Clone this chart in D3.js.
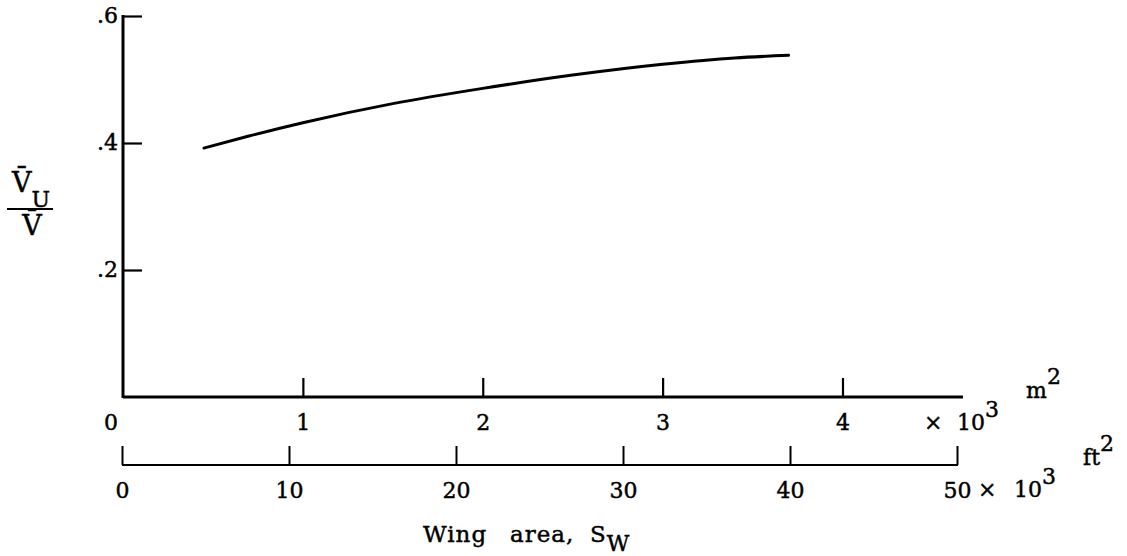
<!DOCTYPE html>
<html>
<head>
<meta charset="utf-8">
<script src="https://cdn.jsdelivr.net/npm/d3@7"></script>
<style>
  html, body { margin: 0; padding: 0; background: #fff; }
  svg { display: block; }
  text { font-family: "DejaVu Serif", "Liberation Serif", serif; fill: #000; stroke: #000; stroke-width: 0.45px; }
</style>
</head>
<body>
<svg id="chart" width="1127" height="556"></svg>
<script>
// ---- data ----
const areaM2k   = [0.45, 0.7, 1.0, 1.5, 2.0, 2.5, 3.0, 3.4, 3.7];          // wing area, m^2 x 10^3
const velRatio  = [0.392, 0.411, 0.432, 0.462, 0.486, 0.507, 0.524, 0.534, 0.538]; // V_U / V
const yTicks     = [0.2, 0.4, 0.6];
const yTickLabels = [".2", ".4", ".6"];
const m2Ticks    = [0, 1, 2, 3, 4];
const m2TickLabels = ["0", "1", "2", "3", "4"];
const ft2Ticks   = [0, 10, 20, 30, 40, 50];
const ft2TickLabels = ["0", "10", "20", "30", "40", "50"];
const m2AxisEnd  = 4.67;   // m^2 x 10^3 where the m^2 axis line stops
const ft2AxisEnd = 50;

const FS = 22;
const svg = d3.select("#chart");

const x  = d3.scaleLinear().domain([0, m2AxisEnd]).range([123, 963]);
const xf = d3.scaleLinear().domain([0, ft2AxisEnd]).range([122, 957]);
const y  = d3.scaleLinear().domain([0, 0.6]).range([397, 16]);

const baseY = y(0);
const ftY = 465;

// ---- y axis ----
const yAxis = d3.axisLeft(y)
  .tickValues(yTicks)
  .tickFormat((d, i) => yTickLabels[i])
  .tickSizeInner(-19)
  .tickSizeOuter(0)
  .tickPadding(5);
const gy = svg.append("g").attr("transform", `translate(${x(0)},0)`).call(yAxis);
gy.attr("font-family", null).attr("font-size", null);
gy.select(".domain").remove();
gy.selectAll(".tick line").attr("stroke", "#000").attr("stroke-width", 2.2);
gy.selectAll(".tick text").attr("font-size", FS).attr("dy", "0.3em");
svg.append("line")
  .attr("x1", x(0)).attr("x2", x(0))
  .attr("y1", y(0.6) - 1).attr("y2", baseY + 1)
  .attr("stroke", "#000").attr("stroke-width", 3);

// ---- m^2 axis ----
const xAxis = d3.axisBottom(x)
  .tickValues(m2Ticks.slice(1))
  .tickFormat((d, i) => m2TickLabels[i + 1])
  .tickSizeInner(-19)
  .tickSizeOuter(0)
  .tickPadding(17);
const gx = svg.append("g").attr("transform", `translate(0,${baseY})`).call(xAxis);
gx.attr("font-family", null).attr("font-size", null);
gx.select(".domain").remove();
gx.selectAll(".tick line").attr("stroke", "#000").attr("stroke-width", 2.2);
gx.selectAll(".tick text").attr("font-size", FS);
svg.append("line")
  .attr("x1", x(0)).attr("x2", x(m2AxisEnd))
  .attr("y1", baseY).attr("y2", baseY)
  .attr("stroke", "#000").attr("stroke-width", 3);
svg.append("text")
  .attr("x", x(0) - 12).attr("y", baseY + 33)
  .attr("text-anchor", "middle").attr("font-size", FS)
  .text(m2TickLabels[0]);
// x 10^3 for m^2
const t1 = svg.append("text").attr("y", 430).attr("font-size", FS);
t1.append("tspan").attr("x", 924).text("\u00D7");
t1.append("tspan").attr("x", 957).text("10");
t1.append("tspan").attr("dy", -13).text("3");
// m^2 unit
const t2 = svg.append("text").attr("x", 1026).attr("y", 398).attr("font-size", FS);
t2.append("tspan").text("m");
t2.append("tspan").attr("dy", -14).text("2");

// ---- ft^2 axis ----
const fAxis = d3.axisBottom(xf)
  .tickValues(ft2Ticks)
  .tickFormat((d, i) => ft2TickLabels[i])
  .tickSizeInner(-19)
  .tickSizeOuter(0)
  .tickPadding(17);
const gf = svg.append("g").attr("transform", `translate(0,${ftY})`).call(fAxis);
gf.attr("font-family", null).attr("font-size", null);
gf.select(".domain").remove();
gf.selectAll(".tick line").attr("stroke", "#000").attr("stroke-width", 2);
gf.selectAll(".tick text").attr("font-size", FS);
svg.append("line")
  .attr("x1", xf(0)).attr("x2", xf(ft2AxisEnd) + 1)
  .attr("y1", ftY).attr("y2", ftY)
  .attr("stroke", "#000").attr("stroke-width", 2);
const t3 = svg.append("text").attr("y", 497).attr("font-size", FS);
t3.append("tspan").attr("x", 978).text("\u00D7");
t3.append("tspan").attr("x", 1014).text("10");
t3.append("tspan").attr("dy", -13).text("3");
const t4 = svg.append("text").attr("x", 1083).attr("y", 465).attr("font-size", FS);
t4.append("tspan").text("ft");
t4.append("tspan").attr("dy", -14).text("2");

// ---- x title ----
const tt = svg.append("text").attr("y", 542).attr("font-size", 23).attr("letter-spacing", 1);
tt.append("tspan").attr("x", 423).text("Wing");
tt.append("tspan").attr("x", 510).text("area,");
tt.append("tspan").attr("x", 590).text("S");
tt.append("tspan").attr("dy", 9).attr("font-size", 22).text("W");

// ---- y title (fraction) ----
const yn = svg.append("text").attr("x", 12).attr("y", 192).attr("font-size", 27);
yn.append("tspan").text("V\u0304");
yn.append("tspan").attr("dy", 15).attr("font-size", 22).text("U");
svg.append("line").attr("x1", 7).attr("x2", 53).attr("y1", 209).attr("y2", 209)
  .attr("stroke", "#000").attr("stroke-width", 2);
svg.append("text").attr("x", 32).attr("y", 235).attr("font-size", 27)
  .attr("text-anchor", "middle").text("V\u0304");

// ---- curve ----
const pts = areaM2k.map((d, i) => [d, velRatio[i]]);
const line = d3.line().x(d => x(d[0])).y(d => y(d[1])).curve(d3.curveMonotoneX);
svg.append("path").datum(pts)
  .attr("d", line)
  .attr("fill", "none").attr("stroke", "#000").attr("stroke-width", 3)
  .attr("stroke-linecap", "round");
</script>
</body>
</html>
